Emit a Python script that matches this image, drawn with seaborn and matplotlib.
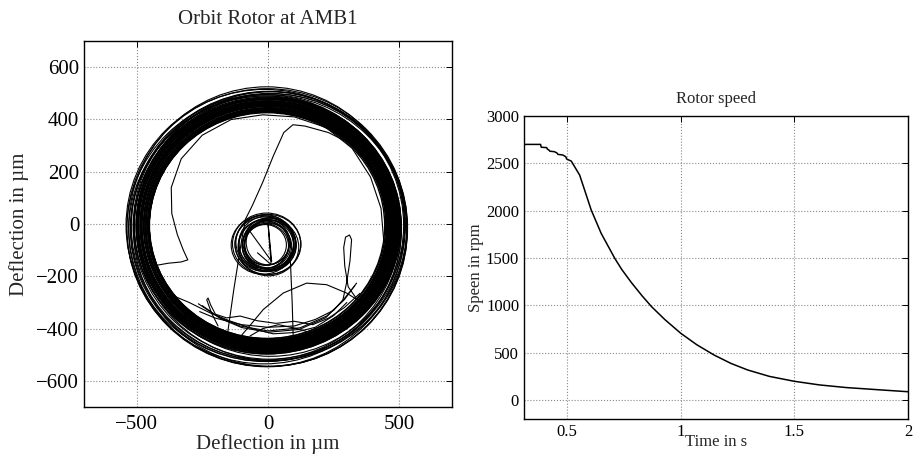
import numpy as np
import matplotlib
matplotlib.use("Agg")
import matplotlib.pyplot as plt
import seaborn as sns
from matplotlib.patches import Ellipse

sns.set_style("white")
plt.rcParams['font.family'] = ['Liberation Serif', 'DejaVu Serif']

# ---------------- orbit data (deflection in um) ----------------
# dense whirl band : centre and semi axes of each revolution
band_cx = [-4, -2, 0, 2, -3, -1, 1, 3, -5, -2, 0, 2, 4, -3, -1, 1, 3, -4, -2, 0, 2, -3, -1, 1, 3, -5, -2, 0, 2, 4, -3, -1, 1, 3, -4, -2]
band_cy = [-6, -4, -8, -5, -7, -3, -6, -9, -5, -4, -7, -6, -8, -3, -5, -7, -6, -4, -8, -5, -7, -3, -6, -9, -5, -4, -7, -6, -8, -3, -5, -7, -6, -4, -8, -5]
band_rx = [448, 450, 452, 453, 455, 457, 458, 460, 462, 463, 465, 467, 468, 470, 472, 473, 475, 477, 478, 480,
           482, 483, 485, 487, 488, 490, 492, 493, 495, 497, 498, 500, 502, 503, 505, 507]
band_ry = [432, 434, 436, 437, 439, 441, 442, 444, 446, 447, 449, 451, 452, 454, 456, 457, 459, 461, 462, 464,
           466, 467, 469, 471, 472, 474, 476, 477, 479, 481, 482, 484, 486, 487, 489, 491]

# wider, looser revolutions outside the band
outer_cx = [-10, 5, -15, 10, 0, -5, 15, -12, 8, -3, -8, 4]
outer_cy = [-15, -5, -20, 0, -25, -10, -12, -5, -22, -14, -18, -8]
outer_rx = [512, 518, 522, 510, 530, 525, 515, 528, 520, 534, 516, 524]
outer_ry = [505, 512, 515, 506, 520, 535, 510, 520, 522, 532, 508, 516]

# small whirl after touch-down
small_cx = [-10, -5, 0, -15, 5, -8, -12, 2, -20, 0, -5, -10, 10, -3, -6, 4, -14, 0]
small_cy = [-80, -75, -85, -78, -72, -82, -70, -88, -80, -78, -76, -84, -80, -74, -79, -83, -77, -70]
small_rx = [80, 85, 90, 95, 100, 105, 110, 115, 120, 125, 130, 88, 98, 108, 92, 102, 112, 83]
small_ry = [78, 82, 88, 92, 96, 100, 106, 110, 112, 115, 118, 85, 95, 105, 90, 98, 104, 86]

# transient paths (x, y)
path_a_x = [440, 430, 390, 320, 220, 100, -20, -140, -250, -330, -368, -366, -345, -322, -305, -330, -380, -425]
path_a_y = [-60, 60, 180, 290, 370, 410, 418, 400, 340, 250, 140, 40, -40, -100, -137, -145, -150, -158]

path_b_x = [470, 420, 330, 230, 140, 95, 60, 20, -20, -60, -85, -100, -130, -157]
path_b_y = [120, 220, 300, 350, 375, 380, 350, 260, 160, 70, 20, -60, -250, -441]

path_c_x = [340, 305, 292, 288, 295, 310, 318, 312, 300, 285, 250, 180, 100, 0, -100, -200, -260]
path_c_y = [-290, -240, -160, -90, -50, -42, -60, -140, -220, -290, -330, -365, -390, -395, -385, -360, -335]

path_d_x = [-265, -190, -106, 0, 122, 223, 290, 337]
path_d_y = [-305, -355, -390, -409, -397, -352, -290, -226]

path_e_x = [-250, -180, -100, 0, 120, 220, 280, 330]
path_e_y = [-312, -362, -396, -414, -403, -358, -298, -236]

path_f_x = [-119, -70, -18, 58, 147, 223, 299, 340]
path_f_y = [-447, -390, -327, -264, -226, -232, -264, -290]

path_g_x = [-190, -215, -233, -228, -218, -200, -157, -106, -40, 30, 100, 170, 230, 290, 350]
path_g_y = [-390, -340, -290, -283, -310, -345, -359, -352, -370, -380, -372, -385, -360, -320, -265]

path_h_x = [-385, -300, -220, -144, -60, 20, 100, 180, 250, 300]
path_h_y = [-264, -300, -340, -371, -400, -420, -415, -395, -350, -300]

path_i_x = [96, 92, 86, 84]
path_i_y = [-435, -300, -160, -110]

path_j_x = [-68, -20, 40, 110, 160, 210, 260]
path_j_y = [-428, -400, -385, -400, -415, -395, -370]

chord_x = [-68, 14, 0, 12, -40]
chord_y = [-29, -143, 4, -155, -110]

orbit_paths = [(path_a_x, path_a_y), (path_b_x, path_b_y), (path_c_x, path_c_y),
               (path_d_x, path_d_y), (path_e_x, path_e_y), (path_f_x, path_f_y),
               (path_g_x, path_g_y), (path_h_x, path_h_y), (path_i_x, path_i_y),
               (path_j_x, path_j_y), (chord_x, chord_y)]

# ---------------- rotor speed ----------------
time_s = [0.31, 0.383, 0.386, 0.41, 0.413, 0.42, 0.424, 0.444, 0.455, 0.459, 0.481, 0.494,
          0.498, 0.518, 0.533, 0.555, 0.577, 0.606, 0.65, 0.71, 0.74, 0.783, 0.83, 0.872,
          0.93, 1.0, 1.07, 1.147, 1.22, 1.294, 1.39, 1.5, 1.61, 1.728, 1.875, 2.0]
speed_rpm = [2700, 2700, 2670, 2666, 2650, 2640, 2628, 2623, 2610, 2595, 2588, 2570,
             2545, 2524, 2464, 2376, 2217, 2006, 1759, 1495, 1380, 1240, 1100, 985,
             850, 705, 585, 475, 388, 318, 250, 198, 160, 132, 108, 88]

fig = plt.figure(figsize=(9.17, 4.54), dpi=100)
ax1 = fig.add_axes([0.0916, 0.1035, 0.4013, 0.806])
ax2 = fig.add_axes([0.5714, 0.0771, 0.4188, 0.6674])

for cx, cy, rx, ry in zip(band_cx, band_cy, band_rx, band_ry):
    ax1.add_patch(Ellipse((cx, cy), 2 * rx, 2 * ry, fill=False, ec='black', lw=1.0))
for cx, cy, rx, ry in zip(outer_cx + small_cx, outer_cy + small_cy,
                          outer_rx + small_rx, outer_ry + small_ry):
    ax1.add_patch(Ellipse((cx, cy), 2 * rx, 2 * ry, fill=False, ec='black', lw=0.8))

for px, py in orbit_paths:
    sns.lineplot(x=px, y=py, sort=False, estimator=None, color='black', lw=0.8, ax=ax1)

ax1.set_xlim(-700, 700)
ax1.set_ylim(-700, 700)
ax1.set_xticks([-500, 0, 500])
ax1.set_yticks([-600, -400, -200, 0, 200, 400, 600])
ax1.set_title("Orbit Rotor at AMB1", fontsize=15, pad=12)
ax1.set_xlabel("Deflection in µm", fontsize=15)
ax1.set_ylabel("Deflection in µm", fontsize=15)
ax1.tick_params(labelsize=15)
ax1.tick_params(axis='x', pad=6)
ax1.xaxis.set_label_coords(0.5, -0.075)
ax1.yaxis.set_label_coords(-0.15, 0.5)

sns.lineplot(x=time_s, y=speed_rpm, color='black', lw=1.1, ax=ax2)
ax2.set_xlim(0.31, 2.0)
ax2.set_ylim(-200, 3000)
ax2.set_xticks([0.5, 1, 1.5, 2])
ax2.set_xticklabels(["0.5", "1", "1.5", "2"])
ax2.set_yticks([0, 500, 1000, 1500, 2000, 2500, 3000])
ax2.set_title("Rotor speed", fontsize=12, pad=9)
ax2.set_xlabel("Time in s", fontsize=12, labelpad=-4)
ax2.set_ylabel("Speen in rpm", fontsize=12, labelpad=1)
ax2.tick_params(labelsize=12)

for ax in (ax1, ax2):
    ax.grid(True, linestyle=':', color='#888888', linewidth=0.8)
    ax.tick_params(direction='in', top=True, right=True, length=4, width=0.7, colors='black')
    for s in ax.spines.values():
        s.set_color('black')
        s.set_linewidth(1.0)

fig.savefig("out.png", dpi=100)
